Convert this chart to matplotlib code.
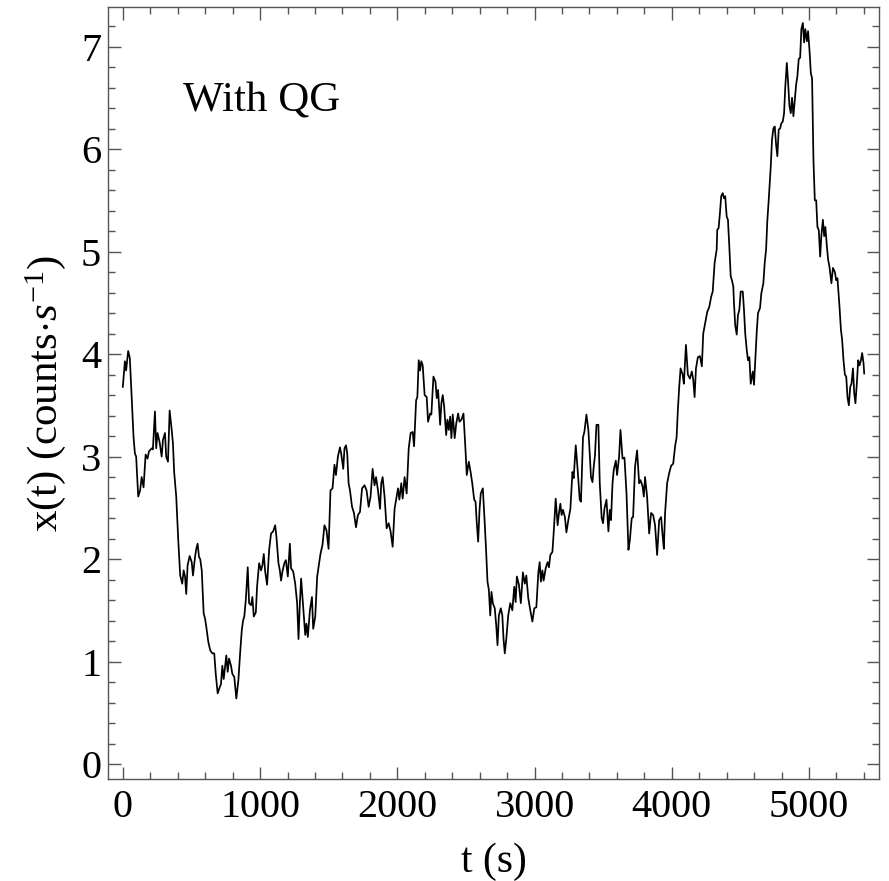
import matplotlib
matplotlib.use("Agg")
import matplotlib.pyplot as plt
from matplotlib.ticker import MultipleLocator

# light curve samples: time (s) and rate (counts/s)
t_sec = [
    0, 15, 24, 39, 51, 64, 78, 88, 97, 112, 126, 137, 151, 166, 180, 190, 210, 219, 234, 243,
    253, 268, 283, 292, 307, 316, 329, 341, 356, 365, 374, 389, 404, 418, 433, 443, 453, 462, 472, 487,
    502, 511, 526, 535, 545, 555, 564, 575, 589, 599, 608, 623, 637, 652, 666, 677, 691, 706, 715, 725,
    735, 745, 754, 764, 774, 788, 798, 812, 827, 842, 856, 867, 876, 885, 896, 910, 920, 934, 944, 954,
    969, 978, 993, 1007, 1017, 1027, 1037, 1051, 1066, 1080, 1095, 1110, 1119, 1134, 1144, 1153, 1163, 1177, 1188, 1202,
    1217, 1226, 1241, 1256, 1270, 1280, 1290, 1299, 1314, 1329, 1338, 1348, 1363, 1378, 1387, 1402, 1416, 1431, 1440, 1455,
    1469, 1484, 1499, 1513, 1528, 1542, 1553, 1567, 1582, 1591, 1606, 1615, 1626, 1635, 1645, 1655, 1670, 1684, 1699, 1713,
    1728, 1743, 1761, 1776, 1791, 1805, 1820, 1834, 1845, 1859, 1874, 1883, 1893, 1907, 1922, 1937, 1951, 1966, 1980, 1995,
    2005, 2015, 2029, 2039, 2053, 2068, 2083, 2097, 2112, 2122, 2137, 2146, 2156, 2166, 2175, 2185, 2199, 2214, 2224, 2239,
    2248, 2263, 2278, 2287, 2297, 2312, 2321, 2331, 2341, 2356, 2365, 2375, 2385, 2394, 2404, 2418, 2429, 2443, 2453, 2467,
    2482, 2497, 2506, 2521, 2535, 2546, 2560, 2570, 2579, 2589, 2599, 2608, 2623, 2637, 2648, 2657, 2667, 2677, 2686, 2696,
    2710, 2721, 2730, 2740, 2754, 2765, 2774, 2783, 2794, 2808, 2823, 2838, 2852, 2862, 2871, 2886, 2900, 2915, 2929, 2940,
    2954, 2969, 2984, 2998, 3013, 3027, 3037, 3046, 3057, 3066, 3081, 3095, 3105, 3115, 3130, 3139, 3148, 3154, 3168, 3178,
    3188, 3197, 3207, 3221, 3232, 3246, 3261, 3276, 3285, 3300, 3314, 3329, 3338, 3353, 3363, 3378, 3392, 3402, 3411, 3422,
    3431, 3440, 3451, 3465, 3475, 3489, 3499, 3509, 3524, 3538, 3548, 3557, 3568, 3577, 3592, 3601, 3616, 3626, 3641, 3655,
    3670, 3684, 3694, 3708, 3718, 3732, 3747, 3762, 3772, 3787, 3796, 3805, 3820, 3835, 3849, 3864, 3878, 3893, 3908, 3922,
    3933, 3942, 3951, 3966, 3981, 3995, 4010, 4024, 4035, 4044, 4054, 4064, 4079, 4088, 4103, 4117, 4132, 4146, 4156, 4166,
    4176, 4190, 4205, 4219, 4229, 4243, 4258, 4273, 4287, 4298, 4312, 4327, 4331, 4341, 4351, 4360, 4371, 4380, 4389, 4400,
    4409, 4419, 4429, 4438, 4448, 4453, 4462, 4473, 4482, 4492, 4502, 4517, 4526, 4535, 4546, 4555, 4565, 4575, 4590, 4599,
    4608, 4619, 4628, 4643, 4652, 4667, 4677, 4687, 4696, 4706, 4721, 4730, 4740, 4750, 4760, 4769, 4779, 4789, 4798, 4809,
    4818, 4827, 4838, 4847, 4857, 4867, 4876, 4886, 4896, 4906, 4915, 4925, 4935, 4944, 4955, 4964, 4973, 4984, 4993, 5003,
    5013, 5022, 5032, 5042, 5052, 5061, 5071, 5081, 5090, 5101, 5110, 5119, 5130, 5139, 5149, 5163, 5174, 5188, 5198, 5207,
    5222, 5232, 5241, 5251, 5261, 5271, 5280, 5290, 5300, 5309, 5320, 5329, 5338, 5349, 5358, 5368, 5378, 5387, 5397, 5402,
]

rate = [
    3.68, 3.93, 3.84, 4.03, 3.96, 3.58, 3.19, 3.03, 3.00, 2.61, 2.67, 2.80, 2.70, 3.02, 2.98, 3.05, 3.08, 3.07, 3.44, 3.08,
    3.23, 3.14, 3.00, 3.16, 3.23, 3.00, 2.95, 3.45, 3.26, 3.13, 2.85, 2.61, 2.18, 1.84, 1.76, 1.89, 1.83, 1.66, 1.94, 2.03,
    1.97, 1.84, 2.02, 2.10, 2.15, 2.02, 2.00, 1.89, 1.47, 1.42, 1.34, 1.19, 1.11, 1.08, 1.08, 0.88, 0.69, 0.75, 0.78, 0.96,
    0.83, 0.95, 1.06, 0.90, 1.03, 0.96, 0.88, 0.85, 0.64, 0.82, 1.11, 1.31, 1.40, 1.44, 1.60, 1.92, 1.57, 1.55, 1.63, 1.44,
    1.48, 1.73, 1.96, 1.89, 1.94, 2.05, 1.88, 1.75, 2.09, 2.25, 2.27, 2.33, 2.22, 1.96, 1.89, 1.79, 1.88, 1.96, 1.99, 1.83,
    2.15, 1.91, 1.88, 1.76, 1.57, 1.22, 1.57, 1.81, 1.53, 1.26, 1.37, 1.24, 1.50, 1.63, 1.32, 1.44, 1.83, 1.97, 2.05, 2.14,
    2.33, 2.28, 2.10, 2.67, 2.69, 2.92, 2.82, 3.00, 3.09, 3.03, 2.88, 3.08, 3.11, 3.03, 2.74, 2.67, 2.51, 2.45, 2.31, 2.43,
    2.46, 2.69, 2.72, 2.67, 2.51, 2.61, 2.88, 2.72, 2.80, 2.67, 2.49, 2.74, 2.80, 2.61, 2.30, 2.35, 2.27, 2.12, 2.49, 2.61,
    2.69, 2.58, 2.74, 2.59, 2.80, 2.64, 3.08, 3.23, 3.24, 3.10, 3.55, 3.58, 3.94, 3.84, 3.93, 3.89, 3.60, 3.58, 3.34, 3.42,
    3.41, 3.78, 3.73, 3.57, 3.65, 3.31, 3.52, 3.60, 3.49, 3.21, 3.36, 3.26, 3.39, 3.18, 3.41, 3.18, 3.32, 3.42, 3.34, 3.36,
    3.42, 3.06, 2.82, 2.95, 2.84, 2.74, 2.58, 2.56, 2.35, 2.17, 2.48, 2.64, 2.69, 2.35, 2.05, 1.78, 1.70, 1.45, 1.68, 1.57,
    1.52, 1.35, 1.16, 1.45, 1.52, 1.45, 1.22, 1.08, 1.22, 1.45, 1.57, 1.50, 1.73, 1.58, 1.83, 1.75, 1.57, 1.87, 1.76, 1.84,
    1.62, 1.50, 1.39, 1.52, 1.53, 1.86, 1.97, 1.78, 1.89, 1.79, 1.91, 1.97, 1.92, 2.04, 2.07, 2.25, 2.45, 2.59, 2.33, 2.45,
    2.54, 2.43, 2.48, 2.41, 2.26, 2.38, 2.49, 2.85, 2.79, 3.11, 2.87, 2.58, 2.56, 3.19, 3.24, 3.41, 3.26, 3.03, 2.80, 2.75,
    2.90, 3.01, 3.31, 3.31, 2.74, 2.40, 2.35, 2.49, 2.58, 2.27, 2.48, 2.38, 2.74, 2.87, 2.96, 2.82, 3.00, 3.26, 2.98, 2.99,
    2.64, 2.09, 2.18, 2.40, 2.41, 2.90, 3.06, 2.74, 2.77, 2.71, 2.61, 2.80, 2.61, 2.25, 2.45, 2.43, 2.33, 2.04, 2.38, 2.41,
    2.23, 2.10, 2.45, 2.74, 2.84, 2.91, 2.93, 3.10, 3.19, 3.45, 3.68, 3.86, 3.80, 3.71, 4.09, 3.80, 3.76, 3.83, 3.75, 3.58,
    3.86, 3.97, 3.98, 3.88, 4.20, 4.30, 4.41, 4.46, 4.56, 4.61, 4.89, 5.02, 5.21, 5.23, 5.38, 5.54, 5.57, 5.52, 5.54, 5.34,
    5.31, 5.05, 4.76, 4.72, 4.66, 4.50, 4.28, 4.19, 4.38, 4.43, 4.61, 4.61, 4.43, 4.20, 4.04, 3.94, 3.97, 3.71, 3.83, 3.70,
    3.94, 4.22, 4.40, 4.45, 4.59, 4.69, 4.89, 5.02, 5.30, 5.50, 5.83, 6.09, 6.20, 6.22, 6.04, 5.93, 6.19, 6.20, 6.25, 6.27,
    6.35, 6.61, 6.84, 6.66, 6.42, 6.35, 6.50, 6.32, 6.48, 6.63, 6.71, 6.88, 6.89, 7.17, 7.23, 7.04, 7.17, 7.05, 7.15, 6.97,
    6.74, 6.69, 5.90, 5.50, 5.50, 5.24, 5.21, 4.95, 5.16, 5.31, 5.15, 5.24, 5.05, 4.92, 4.85, 4.69, 4.84, 4.80, 4.72, 4.74,
    4.46, 4.24, 4.14, 3.94, 3.80, 3.78, 3.58, 3.50, 3.68, 3.71, 3.86, 3.62, 3.52, 3.73, 3.94, 3.89, 3.94, 4.01, 3.91, 3.81,
]

x_ticks = [0, 1000, 2000, 3000, 4000, 5000]
y_ticks = [0, 1, 2, 3, 4, 5, 6, 7]

plt.rcParams['font.family'] = ['Liberation Serif', 'DejaVu Serif']
plt.rcParams['mathtext.fontset'] = 'custom'
plt.rcParams['mathtext.rm'] = 'Liberation Serif'
plt.rcParams['mathtext.it'] = 'Liberation Serif:italic'

frame_col = '#555555'

fig = plt.figure(figsize=(8.89, 8.81), dpi=100)
ax = fig.add_axes([0.1215, 0.1158, 0.8673, 0.8762])

ax.plot(t_sec, rate, color='black', lw=1.25)

ax.set_xlim(-108, 5510)
ax.set_ylim(-0.145, 7.385)
ax.set_xticks(x_ticks)
ax.set_yticks(y_ticks)
ax.xaxis.set_minor_locator(MultipleLocator(200))
ax.yaxis.set_minor_locator(MultipleLocator(0.2))

ax.tick_params(which='both', direction='in', top=True, right=True,
               color=frame_col, width=1.0, labelsize=29)
ax.tick_params(which='major', length=9)
ax.tick_params(which='minor', length=5)
ax.tick_params(axis='x', pad=7)
ax.tick_params(axis='y', pad=5)
for sp in ax.spines.values():
    sp.set_color(frame_col)
    sp.set_linewidth(1.0)

ax.set_xlabel('t (s)', fontsize=30, labelpad=12)
ax.set_ylabel(r'x(t) (counts$\cdot s^{-1}$)', fontsize=31, labelpad=9)

ax.text(0.097, 0.878, 'With QG', transform=ax.transAxes, fontsize=31,
        ha='left', va='center')

fig.savefig('out.png', dpi=100)
